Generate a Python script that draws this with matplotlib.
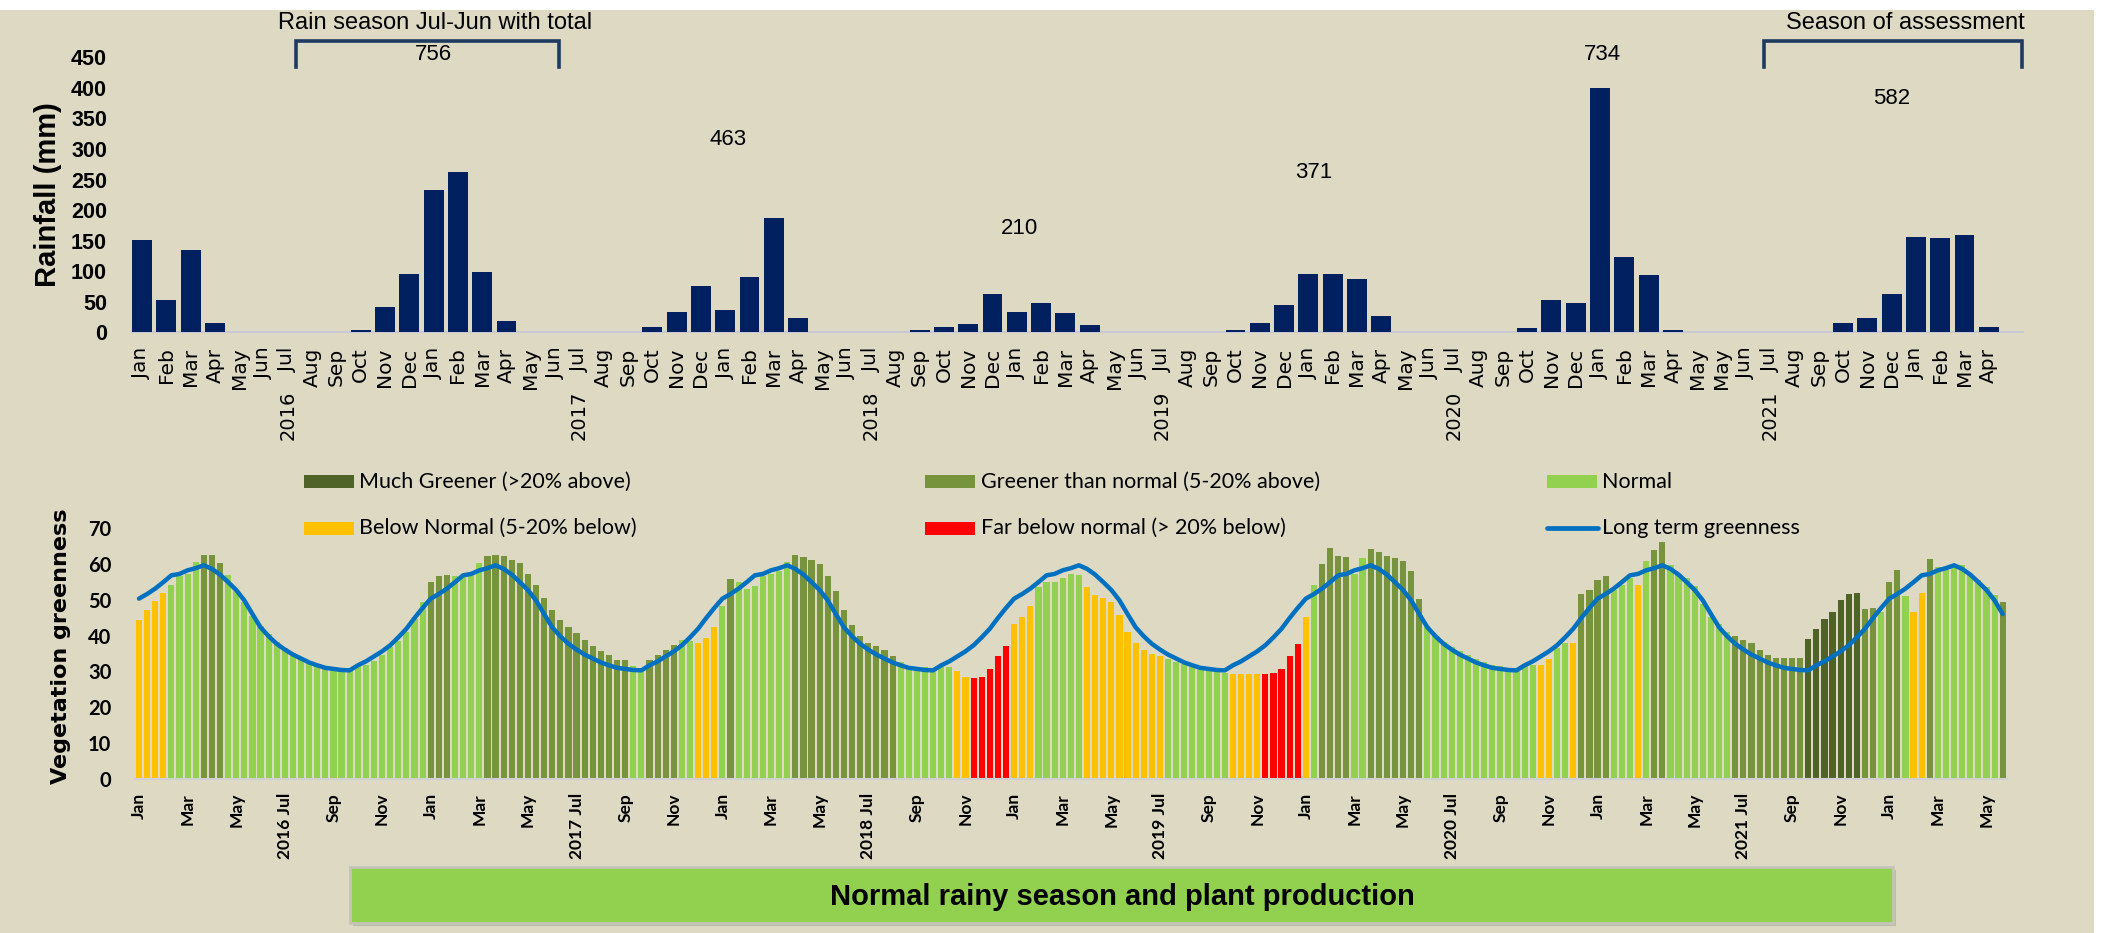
import matplotlib
matplotlib.use('Agg')
import matplotlib.pyplot as plt
from matplotlib.patches import Rectangle
from matplotlib.lines import Line2D

W, H = 2111, 933

# ---------------- monthly rainfall (mm), Jan 2016 .. Apr 2022 ----------------
months = ['Jan', 'Feb', 'Mar', 'Apr', 'May', 'Jun', 'Jul', 'Aug', 'Sep', 'Oct', 'Nov', 'Dec',
          'Jan', 'Feb', 'Mar', 'Apr', 'May', 'Jun', 'Jul', 'Aug', 'Sep', 'Oct', 'Nov', 'Dec',
          'Jan', 'Feb', 'Mar', 'Apr', 'May', 'Jun', 'Jul', 'Aug', 'Sep', 'Oct', 'Nov', 'Dec',
          'Jan', 'Feb', 'Mar', 'Apr', 'May', 'Jun', 'Jul', 'Aug', 'Sep', 'Oct', 'Nov', 'Dec',
          'Jan', 'Feb', 'Mar', 'Apr', 'May', 'Jun', 'Jul', 'Aug', 'Sep', 'Oct', 'Nov', 'Dec',
          'Jan', 'Feb', 'Mar', 'Apr', 'May', 'May', 'Jun', 'Jul', 'Aug', 'Sep', 'Oct', 'Nov', 'Dec',
          'Jan', 'Feb', 'Mar', 'Apr']
rain = [151, 53, 135, 14.7, 0.5, 0, 0, 0, 0.5, 4.5, 41, 96,
        233, 262, 98, 18.5, 0.5, 0, 0, 0, 0.5, 9, 34, 76,
        36, 91, 187, 24, 0.5, 0, 0, 0, 3.5, 9, 14, 62,
        33, 48, 31, 12, 0.5, 0, 0, 0, 0.5, 4, 16, 44,
        96, 96, 87, 27, 0.5, 0, 0, 0, 0.5, 6.5, 53, 48,
        399, 123, 93, 3, 0.5, 0.5, 0, 0, 0, 0.5, 15, 24, 62,
        156, 154, 159, 9]
years_top = ['2016', '2017', '2018', '2019', '2020', '2021']
years_top_at = [6, 18, 30, 42, 54, 67]          # index of the Jul bar
season_totals = [756, 463, 210, 371, 734, 582]
totals_at = [(12.0, 454), (24.1, 315), (36.1, 170), (48.2, 262), (60.1, 454), (72.0, 382)]

# ---------------- dekadal vegetation greenness, Jan 2016 .. May 2022 ----------------
# M much greener, G greener, N normal, B below normal, F far below normal
g2016 = [44.4, 47.0, 49.7, 51.9, 54.2, 56.6, 57.3, 60.6, 62.6, 62.6, 60.3, 56.8,
         52.5, 49.5, 45.5, 42.8, 40.5, 38.1, 36.5, 35.1, 33.7, 32.5, 31.7, 31.1,
         30.7, 30.5, 30.3, 31.4, 31.7, 32.8, 34.5, 36.7, 38.4, 41.0, 44.7, 49.3]
c2016 = 'BBBBNNNNGGGN' + 'N' * 24
g2017 = [55.0, 56.5, 56.8, 56.6, 57.0, 57.5, 60.2, 62.2, 62.5, 62.2, 61.0, 60.3,
         57.2, 54.0, 50.4, 47.0, 44.4, 42.5, 40.6, 38.8, 37.2, 35.7, 34.6, 33.1,
         33.1, 31.6, 30.8, 33.3, 34.5, 36.1, 37.4, 38.8, 38.4, 38.0, 39.4, 42.5]
c2017 = 'GGG' + 'NNNN' + 'G' * 18 + 'NN' + 'GGGG' + 'NN' + 'BBB'
g2018 = [48.2, 55.7, 55.0, 53.1, 53.9, 56.5, 57.2, 58.0, 60.6, 62.5, 61.8, 61.0,
         59.9, 56.5, 52.3, 47.0, 42.9, 39.9, 38.0, 37.2, 36.1, 34.2, 32.7, 31.1,
         31.1, 31.1, 30.8, 31.1, 31.1, 30.0, 28.5, 28.1, 28.5, 30.8, 34.2, 37.2]
c2018 = 'NG' + 'N' * 7 + 'G' * 13 + 'N' * 7 + 'BB' + 'FFFFF'
g2019 = [43.3, 45.1, 48.2, 53.5, 55.0, 55.0, 56.1, 57.2, 56.8, 53.5, 51.2, 50.4,
         49.3, 45.6, 41.0, 38.0, 36.1, 35.0, 34.2, 33.5, 32.7, 32.0, 31.1, 30.8,
         30.4, 30.1, 29.7, 29.4, 29.4, 29.4, 29.4, 29.4, 29.7, 30.8, 34.2, 37.6]
c2019 = 'BBB' + 'N' * 6 + 'B' * 10 + 'N' * 8 + 'BBBB' + 'FFFFF'
g2020 = [45.1, 54.0, 59.9, 64.5, 62.3, 61.9, 57.3, 61.6, 64.2, 63.4, 62.3, 61.5,
         60.7, 58.0, 50.1, 42.6, 39.8, 38.1, 36.7, 35.6, 34.5, 33.6, 32.7, 31.9,
         31.4, 30.9, 30.8, 31.4, 31.9, 31.9, 33.5, 36.5, 38.0, 38.0, 51.6, 52.7]
c2020 = 'BN' + 'GGGG' + 'NN' + 'G' * 7 + 'N' * 14 + 'BB' + 'NN' + 'B' + 'GG'
g2021 = [55.4, 56.5, 52.7, 54.2, 56.1, 54.2, 60.7, 64.0, 66.0, 59.8, 57.1, 56.1,
         53.9, 48.8, 45.3, 43.1, 41.0, 39.9, 38.8, 38.0, 36.1, 34.6, 33.8, 33.8,
         33.8, 33.8, 39.1, 41.8, 44.5, 46.7, 50.0, 51.6, 52.0, 47.4, 47.8, 46.5]
c2021 = 'GG' + 'NNN' + 'B' + 'N' + 'GG' + 'N' * 8 + 'G' * 9 + 'M' * 7 + 'GG' + 'N'
g2022 = [55.0, 58.4, 50.9, 46.7, 52.0, 61.4, 59.2, 58.4, 59.2, 59.8, 57.2, 55.4,
         53.5, 51.2, 49.5]
c2022 = 'GGNBBG' + 'N' * 8 + 'G'

# long term greenness, one value per dekad of the year (the same every year)
lta_year = [50.3, 51.6, 53.1, 54.9, 56.8, 57.2, 58.2, 58.8, 59.6, 58.6, 57.0, 54.9,
            52.7, 49.8, 46.0, 42.3, 39.8, 37.7, 36.1, 34.7, 33.6, 32.5, 31.7, 31.0,
            30.7, 30.4, 30.3, 31.7, 32.8, 34.2, 35.6, 37.3, 39.5, 41.9, 44.9, 47.7]

green_ticks = []
for yr in ['2016', '2017', '2018', '2019', '2020', '2021']:
    green_ticks += ['Jan', 'Mar', 'May', yr + ' Jul', 'Sep', 'Nov']
green_ticks += ['Jan', 'Mar', 'May']

cls_names = {'M': 'Much Greener (>20% above)', 'G': 'Greener than normal (5-20% above)',
             'N': 'Normal', 'B': 'Below Normal (5-20% below)', 'F': 'Far below normal (> 20% below)'}
cls_colors = {'M': '#4F6228', 'G': '#77933C', 'N': '#92D050', 'B': '#FFC000', 'F': '#FF0000'}

greenness = g2016 + g2017 + g2018 + g2019 + g2020 + g2021 + g2022
classes = c2016 + c2017 + c2018 + c2019 + c2020 + c2021 + c2022
n = len(greenness)
lta = (lta_year * 7)[:n]

# ---------------- figure ----------------
BG = '#DDD9C3'
fig = plt.figure(figsize=(W / 100, H / 100), dpi=100, facecolor='white')
fig.patches.append(Rectangle((0, 0), 2094 / W, 1 - 10 / H, transform=fig.transFigure,
                             facecolor=BG, edgecolor='none', zorder=-10))


def fx(px):
    return px / W


def fy(py):
    return 1 - py / H


# top: rainfall
ax1 = fig.add_axes([fx(132), fy(332.3), (2023 - 132) / W, (332.3 - 57.3) / H])
ax1.set_facecolor('none')
ax1.bar(range(len(rain)), rain, width=0.82, color='#002060', zorder=3)
ax1.set_xlim((132 - 142) / 24.3, (2023 - 142) / 24.3)
ax1.set_ylim(0, 450)
for s in ['top', 'right', 'left']:
    ax1.spines[s].set_visible(False)
ax1.spines['bottom'].set_color('#C8C8D6')
ax1.spines['bottom'].set_linewidth(1.5)
ax1.set_yticks(range(0, 451, 50))
ax1.set_yticklabels([str(v) for v in range(0, 451, 50)], fontfamily='Liberation Sans',
                    fontweight='bold', fontsize=15.5)
ax1.set_xticks(range(len(months)))
ax1.set_xticklabels(months, rotation=90, fontfamily='DejaVu Sans', fontsize=14.5)
ax1.tick_params(axis='y', length=0, pad=18)
ax1.tick_params(axis='x', length=0, pad=11)
fig.text(fx(48), fy(195), 'Rainfall (mm)', rotation=90, ha='center', va='center',
         fontfamily='Liberation Sans', fontweight='bold', fontsize=21)

for yr, pos in zip(years_top, years_top_at):
    ax1.text(pos, -0.213, yr, transform=ax1.get_xaxis_transform(), rotation=90,
             ha='center', va='top', fontfamily='DejaVu Sans', fontsize=14)

for tot, (xp, yp) in zip(season_totals, totals_at):
    ax1.text(xp, yp, str(tot), ha='center', va='center', fontfamily='Liberation Sans',
             fontsize=16, clip_on=False)

bracket_col = '#1F3A5F'
for x0, x1 in [(6.32, 17.16), (66.74, 77.36)]:
    ax1.plot([x0, x0, x1, x1], [434, 477, 477, 434], color=bracket_col, lw=2.6,
             clip_on=False, solid_joinstyle='miter', zorder=4)
ax1.text(12.06, 506, 'Rain season Jul-Jun with total', ha='center', va='center',
         fontfamily='Liberation Sans', fontsize=17, clip_on=False)
ax1.text(72.55, 506, 'Season of assessment', ha='center', va='center',
         fontfamily='Liberation Sans', fontsize=17, clip_on=False)

# bottom: vegetation greenness
ax2 = fig.add_axes([fx(134.95), fy(779), 231 * 8.103 / W, (779 - 528) / H])
ax2.set_facecolor('none')
x = list(range(n))
ax2.bar(x, greenness, width=0.76, color=[cls_colors[c] for c in classes], zorder=2)
ax2.plot(x, lta, color='#0070C0', lw=3.2, solid_joinstyle='round',
         solid_capstyle='round', zorder=3, clip_on=False)
ax2.set_xlim(-0.5, 230.5)
ax2.set_ylim(0, 70)
for s in ['top', 'right', 'left']:
    ax2.spines[s].set_visible(False)
ax2.spines['bottom'].set_color('#D0D0D0')
ax2.spines['bottom'].set_linewidth(1.5)
ax2.set_yticks(range(0, 71, 10))
ax2.set_yticklabels([str(v) for v in range(0, 71, 10)], fontfamily='Lato',
                    fontweight='bold', fontsize=14.5)
ax2.set_xticks(range(0, n, 6))
ax2.set_xticklabels(green_ticks, rotation=90, fontfamily='Lato', fontweight='bold',
                    fontsize=12.5)
ax2.tick_params(axis='y', length=0, pad=17)
ax2.tick_params(axis='x', length=0, pad=10)
fig.text(fx(61), fy(646), 'Vegetation greenness', rotation=90, ha='center', va='center',
         fontfamily='DejaVu Sans', fontweight='bold', fontsize=16)

# legend
col_x = [303.6, 925.4, 1547]
row_y = [482, 528]
entries = [('M', 'patch'), ('G', 'patch'), ('N', 'patch'),
           ('B', 'patch'), ('F', 'patch'), ('L', 'line')]
for i, (key, kind) in enumerate(entries):
    cx = col_x[i % 3]
    cy = row_y[i // 3]
    if kind == 'patch':
        fig.patches.append(Rectangle((fx(cx), fy(cy + 6.5)), 50 / W, 13 / H,
                                     transform=fig.transFigure, facecolor=cls_colors[key],
                                     edgecolor='none'))
        label = cls_names[key]
    else:
        fig.lines.append(Line2D([fx(cx), fx(cx + 51)], [fy(cy), fy(cy)],
                                transform=fig.transFigure, color='#0070C0', lw=3.4,
                                solid_capstyle='round'))
        label = 'Long term greenness'
    fig.text(fx(cx + 55.5), fy(cy), label, ha='left', va='center', fontfamily='Lato',
             fontsize=15.5)

# bottom status box
fig.patches.append(Rectangle((fx(353), fy(926)), (1893 - 350) / W, (926 - 869.7) / H,
                             transform=fig.transFigure, facecolor='#A8A89A',
                             edgecolor='none', alpha=0.6))
fig.patches.append(Rectangle((fx(350), fy(923)), (1893 - 350) / W, (923 - 866.7) / H,
                             transform=fig.transFigure, facecolor='#92D050',
                             edgecolor='#C4C4B8', lw=2))
fig.text(fx(1122), fy(896.7), 'Normal rainy season and plant production', ha='center',
         va='center', fontfamily='Liberation Sans', fontweight='bold', fontsize=21)

fig.savefig('out.png', dpi=100, facecolor=fig.get_facecolor())
